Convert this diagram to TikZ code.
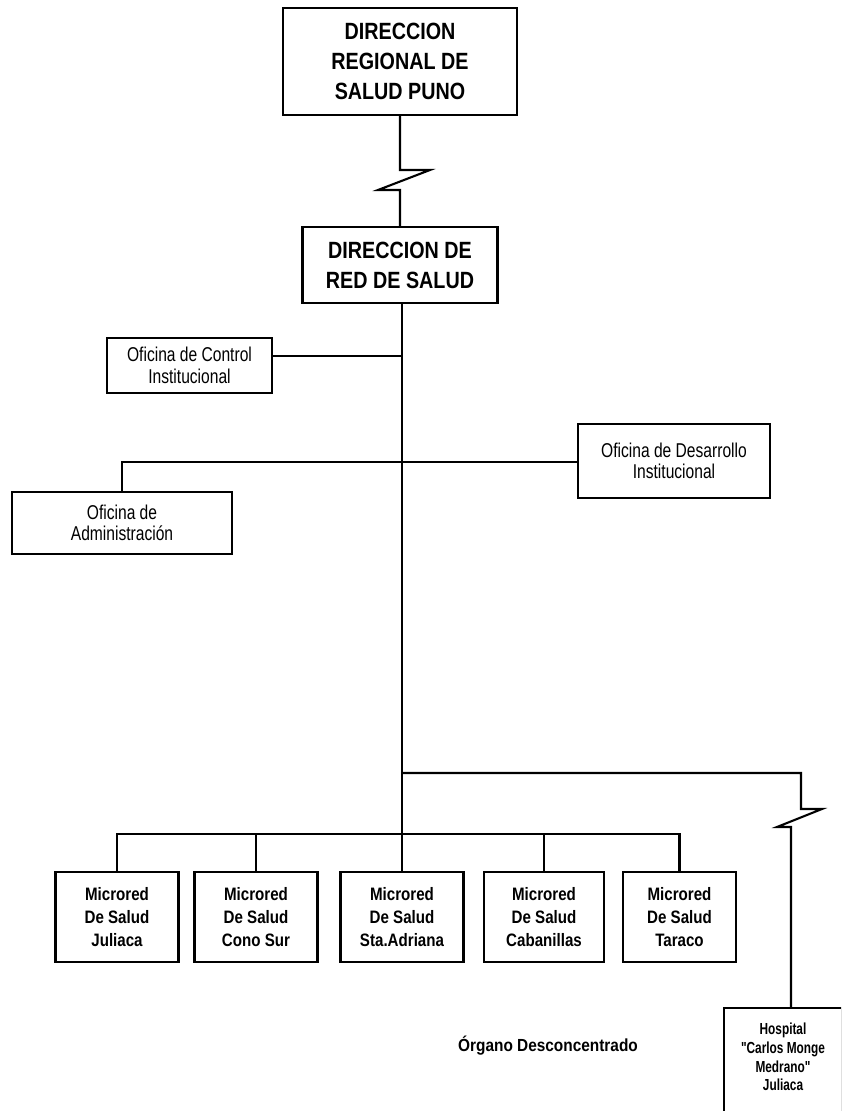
\documentclass[tikz,border=0pt]{standalone}
\usepackage{fontspec}
\setmainfont{Liberation Sans}
\newfontfamily\hdfont{Liberation Sans}[FakeStretch=0.84]
\newfontfamily\offont{Liberation Sans}[FakeStretch=0.78]
\newfontfamily\mrfont{Liberation Sans}[FakeStretch=0.84]
\newfontfamily\hsfont{Liberation Sans}[FakeStretch=0.74]
\newfontfamily\orgfont{Liberation Sans}[FakeStretch=0.88]
\begin{document}
\begin{tikzpicture}[x=1pt,y=-1pt,line width=2.1pt,
  box/.style={draw,line width=2.1pt,rectangle,align=center,inner sep=0pt},
  head/.style={box,font=\hdfont\bfseries\fontsize{23.5}{30}\selectfont},
  office/.style={box,font=\offont\fontsize{20}{21.5}\selectfont},
  micro/.style={box,font=\mrfont\bfseries\fontsize{18}{23}\selectfont,minimum height=90pt},
  conn/.style={line width=2.1pt,line join=miter}]
\useasboundingbox (0,0) rectangle (841,1111);
\clip (0,0) rectangle (841,1111);
\fill[white] (0,0) rectangle (841,1111);

\node[head,minimum width=234pt,minimum height=107pt] (top) at (400,61.5) {DIRECCION\\REGIONAL DE\\SALUD PUNO};
\node[head,minimum width=195pt,minimum height=76pt] (red) at (400,265) {DIRECCION DE\\RED DE SALUD};

\node[office,minimum width=165pt,minimum height=55pt] (ctrl) at (189.5,365.5) {Oficina de Control\\Institucional};
\node[office,minimum width=192pt,minimum height=74pt] (desa) at (674,461) {Oficina de Desarrollo\\Institucional};
\node[office,minimum width=220pt,minimum height=62pt] (adm) at (122,523) {Oficina de\\Administraci\'on};

\node[micro,minimum width=123pt] (m1) at (117,917) {Microred\\De Salud\\Juliaca};
\node[micro,minimum width=123pt] (m2) at (256,917) {Microred\\De Salud\\Cono Sur};
\node[micro,minimum width=123pt] (m3) at (402,917) {Microred\\De Salud\\Sta.Adriana};
\node[micro,minimum width=120pt] (m4) at (544,917) {Microred\\De Salud\\Cabanillas};
\node[micro,minimum width=113pt] (m5) at (679.5,917) {Microred\\De Salud\\Taraco};

\node[align=center,inner sep=0pt,minimum width=116pt,minimum height=96pt,
  font=\hsfont\bfseries\fontsize{16}{18.7}\selectfont] (hosp) at (783,1057)
  {Hospital\\"Carlos Monge\\Medrano"\\Juliaca};
\draw ([yshift=-20pt]hosp.south west) -- (hosp.north west) -- (hosp.north east) -- ([yshift=-20pt]hosp.south east);

\node[font=\orgfont\bfseries\fontsize{17.5}{19}\selectfont,inner sep=0pt] (org) at (548,1046) {\'Organo Desconcentrado};

% top -> red with break
\coordinate (z1) at (400,170);
\coordinate (z2) at (430,170);
\coordinate (z3) at (378,190);
\coordinate (z4) at (400,190);
\draw[conn] (top.south) -- (z1) -- (z2) -- (z3) -- (z4) -- (red.north);

% trunk
\draw[conn] (red.south -| m3.north) -- (m3.north);
\coordinate (tc) at (402,356);
\draw[conn] (ctrl.east |- tc) -- (tc);
\coordinate (ta) at (122,462);
\draw[conn] (desa.west |- ta) -- (ta) -- (adm.north);

% microred bus
\coordinate (bus) at (402,834);
\draw[conn] (m1.north) -- (m1.north |- bus) -- (m5.north |- bus) -- (m5.north);
\draw[conn] (m2.north |- bus) -- (m2.north);
\draw[conn] (m4.north |- bus) -- (m4.north);

% hospital branch
\coordinate (h0) at (402,773);
\coordinate (h1) at (801,773);
\coordinate (h2) at (801,809);
\coordinate (h3) at (822,809);
\coordinate (h4) at (777,827);
\coordinate (h5) at (791,827);
\draw[conn] (h0) -- (h1) -- (h2) -- (h3) -- (h4) -- (h5) -- (h5 |- hosp.north);
\end{tikzpicture}
\end{document}
